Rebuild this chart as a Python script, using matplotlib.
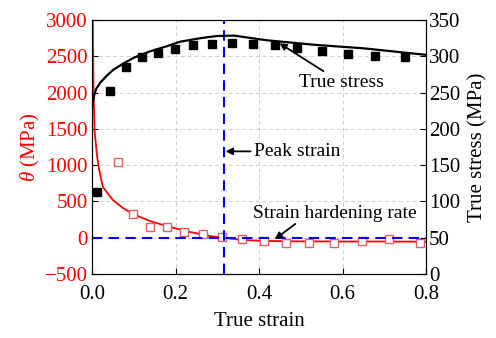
import matplotlib
matplotlib.use('Agg')
import matplotlib.pyplot as plt

plt.rcParams['font.family'] = ['Liberation Serif', 'DejaVu Serif']
plt.rcParams['mathtext.fontset'] = 'custom'
plt.rcParams['mathtext.it'] = 'Liberation Serif:italic'
plt.rcParams['mathtext.rm'] = 'Liberation Serif'

# true stress, measured points (right axis)
stress_strain = [0.012, 0.043, 0.081, 0.12, 0.158, 0.199, 0.242, 0.287, 0.335,
                 0.386, 0.438, 0.491, 0.551, 0.613, 0.678, 0.75]
stress_vals = [113, 252, 285, 299, 305, 310, 316, 317, 318,
               317, 315, 311, 307, 303, 301, 299]

# true stress, fitted curve
stress_fit_x = [0.0, 0.003, 0.006, 0.01, 0.02, 0.035, 0.05, 0.075, 0.1, 0.14,
                0.18, 0.21, 0.26, 0.3, 0.34, 0.42, 0.53, 0.65, 0.8]
stress_fit_y = [228, 240, 248, 255, 264, 273, 281, 290, 298, 307,
                314, 320, 325, 328, 328.5, 322, 316, 311, 302]

# strain hardening rate, measured points (left axis)
theta_strain = [0.062, 0.098, 0.139, 0.18, 0.22, 0.266, 0.311, 0.359, 0.412,
                0.465, 0.52, 0.58, 0.647, 0.711, 0.785]
theta_vals = [1050, 327, 147, 147, 79, 51, 10, -18, -48,
              -77, -69, -69, -41, -22, -77]

# strain hardening rate, fitted curve
theta_fit_x = [0.0015, 0.003, 0.004, 0.0065, 0.012, 0.017, 0.026, 0.05, 0.074,
               0.098, 0.139, 0.187, 0.235, 0.283, 0.314, 0.362, 0.419, 0.5,
               0.6, 0.7, 0.8]
theta_fit_y = [3200, 2400, 1900, 1450, 1130, 940, 700, 520, 410,
               326, 230, 147, 79, 23, 0, -32, -45, -50,
               -52, -52, -55]

peak_strain = 0.315

fig = plt.figure(figsize=(4.96, 3.38), dpi=100)
ax = fig.add_axes([0.1855, 0.1893, 0.6734, 0.7515])
ax2 = ax.twinx()

ax.set_xlim(0, 0.8)
ax.set_ylim(-500, 3000)
ax2.set_ylim(0, 350)

ax.grid(True, color='#d0d0d0', linestyle=(0, (4, 3)), linewidth=0.7)
ax.set_axisbelow(True)

ax.plot(theta_fit_x, theta_fit_y, color='red', linewidth=1.3, zorder=3)
ax.plot(theta_strain, theta_vals, linestyle='none', marker='s', markersize=5.8,
        markerfacecolor='white', markeredgecolor='#e06060', markeredgewidth=1.0,
        zorder=4)
ax.axhline(0, color='blue', linestyle=(0, (5, 3)), linewidth=1.5, zorder=5)
ax.axvline(peak_strain, color='blue', linestyle=(0, (5, 3)), linewidth=1.5, zorder=5)

ax2.plot(stress_fit_x, stress_fit_y, color='black', linewidth=1.6, zorder=3)
ax2.plot(stress_strain, stress_vals, linestyle='none', marker='s', markersize=5.8,
         color='black', zorder=4)

ax.set_xticks([0.0, 0.2, 0.4, 0.6, 0.8])
ax.set_xticklabels(['0.0', '0.2', '0.4', '0.6', '0.8'])
ax.set_yticks(range(-500, 3001, 500))
ax2.set_yticks(range(0, 351, 50))

ax.tick_params(axis='x', direction='in', labelsize=15, length=4, pad=8, top=False)
ax.tick_params(axis='y', direction='in', labelsize=15, length=4, pad=3,
               labelcolor='red', right=False)
ax2.tick_params(axis='y', direction='in', labelsize=15, length=4, pad=2)

ax.set_xlabel('True strain', fontsize=15, labelpad=6)
ax.set_ylabel(r'$\theta$ (MPa)', fontsize=15, color='red', labelpad=2)
ax2.set_ylabel('True stress (MPa)', fontsize=15, labelpad=6)

# annotations
arrow = dict(arrowstyle='-|>', color='black', lw=1.3,
             mutation_scale=10, shrinkA=0, shrinkB=0)
ax2.annotate('True stress', xy=(0.449, 318), xytext=(0.495, 264),
             fontsize=14, ha='left', va='center', arrowprops=arrow, zorder=6)
ax2.annotate('', xy=(0.32, 169), xytext=(0.38, 169), arrowprops=arrow)
ax2.text(0.388, 169, 'Peak strain', fontsize=14, ha='left', va='center')
ax2.text(0.386, 84, 'Strain hardening rate', fontsize=14, ha='left', va='center')
ax2.annotate('', xy=(0.438, 48), xytext=(0.487, 69), arrowprops=arrow)

fig.savefig('out.png', dpi=100)
